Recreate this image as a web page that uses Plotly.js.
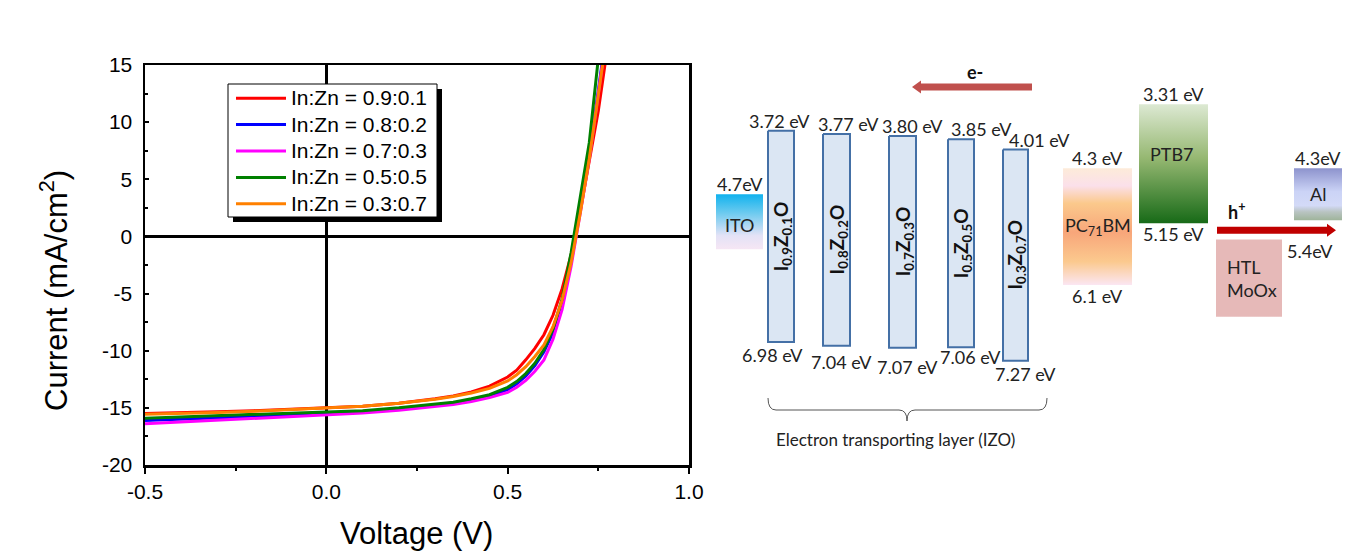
<!DOCTYPE html>
<html><head><meta charset="utf-8">
<script src="https://cdn.plot.ly/plotly-3.0.1.min.js"></script>
<style>html,body{margin:0;padding:0;background:#fff;} #chart{width:1363px;height:558px;}</style>
</head><body><div id="chart"></div>
<script>
// ---------------- J-V data ----------------
const voltage = [-0.5,-0.4,-0.3,-0.2,-0.1,0,0.1,0.2,0.3,0.35,0.4,0.45,0.5,0.525,0.55,0.575,0.6,0.625,0.65,0.675,0.7,0.725,0.75,0.775];
const seriesNames = ['In:Zn = 0.9:0.1','In:Zn = 0.8:0.2','In:Zn = 0.7:0.3','In:Zn = 0.5:0.5','In:Zn = 0.3:0.7'];
const jIn09 = [-15.5,-15.45,-15.35,-15.25,-15.15,-15.0,-14.85,-14.6,-14.2,-13.95,-13.6,-13.1,-12.3,-11.7,-10.8,-9.8,-8.6,-6.9,-4.6,-1.6,2.2,6.5,11.0,16.5];
const jIn08 = [-16.1,-16.0,-15.9,-15.75,-15.6,-15.5,-15.35,-15.1,-14.8,-14.6,-14.3,-13.95,-13.4,-12.9,-12.2,-11.3,-10.1,-8.4,-5.9,-2.2,2.3,7.0,12.8,18.5];
const jIn07 = [-16.4,-16.25,-16.1,-15.95,-15.8,-15.65,-15.45,-15.2,-14.9,-14.7,-14.45,-14.1,-13.65,-13.2,-12.6,-11.8,-10.8,-9.0,-6.4,-2.6,2.0,6.8,12.5,18.2];
const jIn05 = [-15.9,-15.8,-15.7,-15.6,-15.5,-15.4,-15.25,-15.0,-14.7,-14.5,-14.2,-13.85,-13.2,-12.7,-12.0,-11.1,-9.9,-8.1,-5.5,-1.4,3.4,8.2,15.6,21.0];
const jIn03 = [-15.55,-15.5,-15.4,-15.3,-15.15,-15.0,-14.85,-14.6,-14.25,-14.0,-13.7,-13.3,-12.65,-12.1,-11.4,-10.5,-9.5,-7.9,-5.6,-2.3,2.0,6.8,12.8,18.0];
const xTickVals = [-0.5,0,0.5,1.0];
const xTickText = ['-0.5','0.0','0.5','1.0'];
const yTickVals = [-20,-15,-10,-5,0,5,10,15];
const yTickText = ['-20','-15','-10','-5','0','5','10','15'];

// ---------------- Energy-level data (eV) ----------------
const izoNames = ['I<sub>0.9</sub>Z<sub>0.1</sub>O','I<sub>0.8</sub>Z<sub>0.2</sub>O','I<sub>0.7</sub>Z<sub>0.3</sub>O','I<sub>0.5</sub>Z<sub>0.5</sub>O','I<sub>0.3</sub>Z<sub>0.7</sub>O'];
const izoLumo = [3.72,3.77,3.80,3.85,4.01];
const izoHomo = [6.98,7.04,7.07,7.06,7.27];
const izoLumoText = ['3.72 eV','3.77 eV','3.80 eV','3.85 eV','4.01 eV'];
const izoHomoText = ['6.98 eV','7.04 eV','7.07 eV','7.06 eV','7.27 eV'];
const layerNames = ['ITO','PC<sub>71</sub>BM','PTB7','HTL<br>MoOx','Al'];
const layerTop = [4.7,4.3,3.31,5.4,4.3];
const layerBottom = [null,6.1,5.15,null,null];
const layerTopText = ['4.7eV','4.3 eV','3.31 eV','5.4eV','4.3eV'];
const layerBottomText = ['','6.1 eV','5.15 eV','',''];
const bracketText = 'Electron transporting layer (IZO)';
const holeLevel = 5.15;   // h+ transfer level (PTB7 HOMO)

// ---------------- layout / style (not data) ----------------
const W = 1363, H = 558;
const PX = p => p / W, PY = p => 1 - p / H;
const LEFT_FONT = 'Liberation Sans, Arial, sans-serif';
const DIAG_FONT = 'Lato, Carlito, sans-serif';
const lineColors = ['#ff0000','#0000ff','#ff00ff','#008000','#ff8000'];
const izoX = [[768,794],[823,850],[889,916],[948,974],[1003,1028]];
const izoTopDx = [-2,12,10,20,24];
const izoBotDx = [-9,5,5,9,10];
const izoBotDy = [13,16,19,10,13];
const layerX = [[716,763],[1063,1132],[1139,1208],[1216,1282],[1294,1342]];
const layerDepth = [0.85,null,null,1.19,0.8];   // drawn depth (eV) for boxes without a lower level
const layerStyle = [
  [[0,'#10b2ee'],[0.35,'#6fcbef'],[0.75,'#e3e2f6'],[1,'#f6e6f4']],
  [[0,'#fdebd9'],[0.15,'#fbe0ea'],[0.3,'#fbc98c'],[0.55,'#f8a67a'],[0.8,'#fbc98e'],[1,'#fbe6f2']],
  [[0,'#dde9d3'],[0.45,'#96b872'],[1,'#176a17']],
  [[0,'#e6b9b8'],[1,'#e6b9b8']],
  [[0,'#8d93cd'],[0.45,'#cbd3f6'],[0.72,'#d3daf7'],[0.84,'#b9c4c2'],[1,'#9fb49b']]
];
const layerTextPos = [0.55,0.5,0.42,0.5,0.5];
const eTop = 1.703, eBottom = 10.314; // energy axis extent over the page height
const E2P = e => (e - eTop) * H / (eBottom - eTop);  // energy -> page px (for decorations)

const traces = [];
const jSeries = [jIn09,jIn08,jIn07,jIn05,jIn03];
jSeries.forEach((j,i) => traces.push({
  x: voltage, y: j, name: '<span style="font-size:21px">' + seriesNames[i] + '</span>', type:'scatter', mode:'lines',
  line:{color:lineColors[i], width:3}, xaxis:'x', yaxis:'y', hoverinfo:'skip'
}));

function boxTrace(x0,x1,top,bot,opts){
  const t = {x:[x0,x1,x1,x0,x0], y:[top,top,bot,bot,top], type:'scatter', mode:'lines',
    fill:'toself', xaxis:'x2', yaxis:'y2', showlegend:false, hoverinfo:'skip'};
  Object.assign(t, opts);
  return t;
}
const annotations = [];
const shapes = [];
const lbl = (o) => Object.assign({xref:'x2', yref:'y2', showarrow:false, xanchor:'center', yanchor:'middle',
  font:{family:DIAG_FONT, size:18, color:'#222'}}, o);
// IZO bars
izoLumo.forEach((lu,i) => {
  const [x0,x1] = izoX[i];
  traces.push(boxTrace(x0,x1,lu,izoHomo[i],{fillcolor:'#dbe6f3', line:{color:'#4470a6', width:2}}));
  const cx = (x0+x1)/2;
  annotations.push(lbl({x:cx+izoTopDx[i], y:lu, yshift:10, text:izoLumoText[i]}));
  annotations.push(lbl({x:cx+izoBotDx[i], y:izoHomo[i], yshift:-izoBotDy[i], text:izoHomoText[i]}));
  annotations.push(lbl({x:cx+1, y:(lu+izoHomo[i])/2, text:'<b>'+izoNames[i]+'</b>', textangle:-90, font:{family:DIAG_FONT, size:19, color:'#111'}}));
});
// other layers
layerTop.forEach((tp,i) => {
  const [x0,x1] = layerX[i];
  const bt = layerBottom[i] !== null ? layerBottom[i] : tp + layerDepth[i];
  traces.push(boxTrace(x0,x1,tp,bt,{line:{width:0, color:'rgba(0,0,0,0)'},
    fillgradient:{type:'vertical', colorscale:layerStyle[i], start:tp, stop:bt}}));
  const cx = (x0+x1)/2;
  if (i === 3) {
    annotations.push(lbl({x:x1+3, xanchor:'left', y:tp, yanchor:'top', yshift:2, text:layerTopText[i]}));
  } else {
    annotations.push(lbl({x:cx, y:tp, yshift:10, text:layerTopText[i]}));
  }
  if (layerBottomText[i]) annotations.push(lbl({x:cx, y:bt, yshift:-11, text:layerBottomText[i]}));
  const isLeft = (i===2 || i===3);
  annotations.push(lbl({x: isLeft ? x0+9 : cx, xanchor: isLeft ? 'left':'center', align:'left',
    y: tp + (bt-tp)*layerTextPos[i], text:layerNames[i], font:{family:DIAG_FONT, size:18, color:'#222'}}));
});
// arrows (decorative)
function arrowPath(xTail, xTip, yc){
  const dir = Math.sign(xTip - xTail), hl = 9, hh = 6.5, sh = 3.5;
  const xb = xTip - dir*hl;
  const p = [[xTip,yc],[xb,yc-hh],[xb,yc-sh],[xTail,yc-sh],[xTail,yc+sh],[xb,yc+sh],[xb,yc+hh]];
  return 'M' + p.map(q => q[0] + ',' + PY(q[1])).join(' L') + ' Z';
}
const hArrowY = E2P(holeLevel) + 7;
shapes.push({type:'path', xref:'x2', yref:'paper', path:arrowPath(1032,912,87), fillcolor:'#c0504d', line:{width:0}});
shapes.push({type:'path', xref:'x2', yref:'paper', path:arrowPath(1217,1336,hArrowY), fillcolor:'#c00000', line:{width:0}});
annotations.push({xref:'x2', yref:'paper', x:975, y:PY(72), xanchor:'center', yanchor:'middle', text:'<b>e-</b>', showarrow:false, font:{family:DIAG_FONT, size:18, color:'#111'}});
annotations.push({xref:'x2', yref:'paper', x:1236, y:PY(hArrowY-19), xanchor:'center', yanchor:'middle', text:'<b>h<sup>+</sup></b>', showarrow:false, font:{family:DIAG_FONT, size:18, color:'#111'}});
// brace
const bracePath = 'M768,'+PY(398)+' Q768,'+PY(410)+' 776,'+PY(410)+' L899,'+PY(410)+' Q907,'+PY(410)+' 907,'+PY(421)
  +' Q907,'+PY(410)+' 915,'+PY(410)+' L1039,'+PY(410)+' Q1047,'+PY(410)+' 1047,'+PY(398);
shapes.push({type:'path', xref:'x2', yref:'paper', path:bracePath, line:{color:'#555', width:1}});
annotations.push({xref:'x2', yref:'paper', x:895, y:PY(439), xanchor:'center', yanchor:'middle', text:bracketText, showarrow:false, font:{family:DIAG_FONT, size:17, color:'#222'}});

// legend box + shadow
shapes.push({type:'rect', xref:'paper', yref:'paper', x0:PX(233), x1:PX(442), y0:PY(222), y1:PY(89), fillcolor:'#000', line:{width:0}});
shapes.push({type:'rect', xref:'paper', yref:'paper', x0:PX(228), x1:PX(437), y0:PY(217), y1:PY(84), fillcolor:'#fff', line:{color:'#000', width:1}});

// axis titles
annotations.push({xref:'paper', yref:'paper', x:PX(54), y:PY(291), xanchor:'center', yanchor:'middle', text:'Current (mA/cm<sup>2</sup>)', textangle:-90, showarrow:false, font:{family:LEFT_FONT, size:31, color:'#000'}});
annotations.push({xref:'paper', yref:'paper', x:PX(416), y:PY(533), xanchor:'center', yanchor:'middle', text:'Voltage (V)', showarrow:false, font:{family:LEFT_FONT, size:31, color:'#000'}});

const layout = {
  width:W, height:H, margin:{l:0,r:0,t:0,b:0}, paper_bgcolor:'#fff', plot_bgcolor:'rgba(0,0,0,0)',
  font:{family:LEFT_FONT, color:'#000'},
  showlegend:true,
  legend:{x:PX(231), y:PY(80), xanchor:'left', yanchor:'top', bgcolor:'rgba(0,0,0,0)', borderwidth:0,
    font:{family:LEFT_FONT, size:18, color:'#000'}, itemwidth:50, tracegroupgap:0},
  xaxis:{domain:[PX(145),PX(689)], range:[-0.5,1.0], tickvals:xTickVals, ticktext:xTickText,
    showline:true, mirror:true, linecolor:'#000', linewidth:2.5, ticks:'outside', ticklen:6, tickwidth:2, tickcolor:'#000',
    minor:{tickvals:[-0.25,0.25,0.75], ticks:'outside', ticklen:3, tickwidth:2, tickcolor:'#000'},
    zeroline:true, zerolinecolor:'#000', zerolinewidth:2.5, showgrid:false, tickfont:{size:21, family:LEFT_FONT},
    ticklabelstandoff:0, fixedrange:true, anchor:'y'},
  yaxis:{domain:[1-465/H, 1-65/H], range:[-20,15], tickvals:yTickVals, ticktext:yTickText,
    showline:true, mirror:true, linecolor:'#000', linewidth:2.5, ticks:'inside', ticklen:4, tickwidth:2, tickcolor:'#000',
    minor:{tickvals:[-17.5,-12.5,-7.5,-2.5,2.5,7.5,12.5], ticks:'inside', ticklen:3, tickwidth:2, tickcolor:'#000'},
    zeroline:true, zerolinecolor:'#000', zerolinewidth:2.5, showgrid:false, tickfont:{size:21, family:LEFT_FONT},
    ticklabelstandoff:6, fixedrange:true, anchor:'x'},
  xaxis2:{domain:[PX(700),1], range:[700,W], visible:false, anchor:'y2', fixedrange:true},
  yaxis2:{domain:[0,1], range:[eBottom,eTop], visible:false, anchor:'x2', fixedrange:true},
  shapes:shapes, annotations:annotations
};
Plotly.newPlot('chart', traces, layout, {displayModeBar:false, staticPlot:true});
</script></body></html>
